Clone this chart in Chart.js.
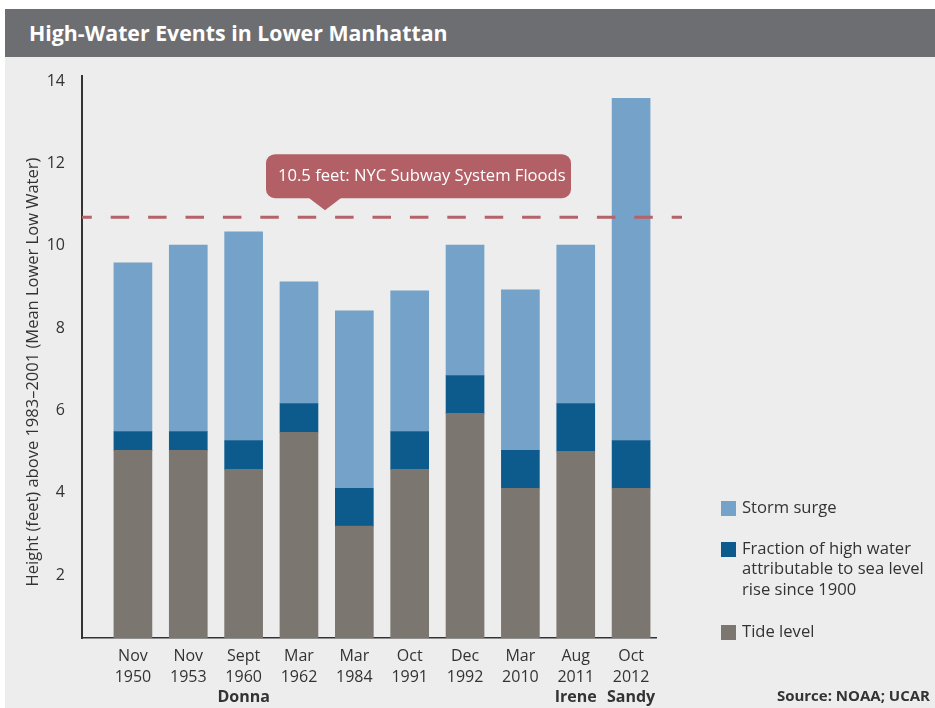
<!DOCTYPE html>
<html>
<head>
<meta charset="utf-8">
<script src="https://cdn.jsdelivr.net/npm/chart.js@4"></script>
<style>
  body { margin: 0; background: #fff; }
  #wrap { position: absolute; left: 5px; top: 9px; width: 930px; height: 699px; background: #ededed; }
  #head { height: 48px; background: #6d6e71; color: #fff; font: bold 21.3px "Open Sans", sans-serif; line-height: 47px; padding-left: 24px; }
  #box { position: absolute; left: 0; top: 48px; width: 930px; height: 651px; }
</style>
</head>
<body>
<div id="wrap">
  <div id="head">High-Water Events in Lower Manhattan</div>
  <div id="box"><canvas id="mychart"></canvas></div>
</div>
<script>
const months=['Nov','Nov','Sept','Mar','Mar','Oct','Dec','Mar','Aug','Oct'];
const years=['1950','1953','1960','1962','1984','1991','1992','2010','2011','2012'];
const storms=['','','Donna','','','','','','Irene','Sandy'];

const tideLevel=[5.03,5.03,4.57,5.47,3.19,4.57,5.93,4.11,5.01,4.11];
const seaLevelRise=[0.46,0.46,0.70,0.70,0.92,0.92,0.92,0.92,1.16,1.16];
const stormSurge=[4.10,4.53,5.07,2.96,4.31,3.42,3.17,3.90,3.85,8.32];

const subwayLevel=10.7;
const subwayText='10.5 feet: NYC Subway System Floods';
const yTicks=[2,4,6,8,10,12,14];

const FONT='"Open Sans", sans-serif';
const TEXT='#333333';

const toPoints=arr=>arr.map((v,i)=>({x:i,y:v}));

const extras={
    id:'extras',
    afterDraw(chart){
        const c=chart.ctx;
        const area=chart.chartArea;
        const ys=chart.scales.y;
        const xs=chart.scales.x;

        // subway flood line
        const ly=ys.getPixelForValue(subwayLevel);
        c.save();
        c.strokeStyle='#b5626a';
        c.lineWidth=3;
        c.setLineDash([18.5,18.9]);
        c.lineDashOffset=8.7;
        c.beginPath();
        c.moveTo(area.left,ly);
        c.lineTo(area.right+26,ly);
        c.stroke();
        c.restore();

        // callout
        const bx=area.left+184, bw=305, bh=44, by=ly-19-bh;
        const px=area.left+243;
        c.save();
        c.fillStyle='#b25f66';
        c.beginPath();
        c.roundRect(bx,by,bw,bh,9);
        c.fill();
        c.beginPath();
        c.moveTo(px-17,by+bh-1);
        c.lineTo(px+17,by+bh-1);
        c.lineTo(px,ly-7);
        c.closePath();
        c.fill();
        c.fillStyle='#ffffff';
        c.font='16.6px '+FONT;
        c.textBaseline='middle';
        c.fillText(subwayText,bx+12,by+bh/2);
        c.restore();

        // storm names under the dates
        c.save();
        c.fillStyle=TEXT;
        c.font='bold 16px '+FONT;
        c.textAlign='center';
        c.textBaseline='middle';
        storms.forEach((s,i)=>{
            if(s) c.fillText(s,xs.getPixelForValue(i),640);
        });
        c.restore();

        // y axis title
        c.save();
        c.fillStyle=TEXT;
        c.font='16.5px '+FONT;
        c.textAlign='center';
        c.textBaseline='middle';
        c.translate(28,315);
        c.rotate(-Math.PI/2);
        c.fillText('Height (feet) above 1983\u20132001 (Mean Lower Low Water)',0,0);
        c.restore();

        // legend
        const items=[
            {ds:2,lines:['Storm surge'],y:451},
            {ds:1,lines:['Fraction of high water','attributable to sea level','rise since 1900'],y:492},
            {ds:0,lines:['Tide level'],y:575}
        ];
        c.save();
        c.font='16.6px '+FONT;
        c.textBaseline='middle';
        items.forEach(it=>{
            c.fillStyle=chart.data.datasets[it.ds].backgroundColor;
            c.fillRect(716,it.y-7,15,15);
            c.fillStyle=TEXT;
            it.lines.forEach((t,k)=>c.fillText(t,737,it.y+k*20.5));
        });
        c.restore();

        // source
        c.save();
        c.fillStyle=TEXT;
        c.font='bold 15px '+FONT;
        c.textAlign='right';
        c.textBaseline='middle';
        c.fillText('Source: NOAA; UCAR',925,640);
        c.restore();
    }
};

const ctx=document.getElementById('mychart').getContext('2d');
let mychart=new Chart(ctx,{
    type:'bar',
    data:{
        datasets:[
            {label:'Tide level',data:toPoints(tideLevel),backgroundColor:'#7b766f'},
            {label:'Fraction of high water attributable to sea level rise since 1900',data:toPoints(seaLevelRise),backgroundColor:'#0d5a8c'},
            {label:'Storm surge',data:toPoints(stormSurge),backgroundColor:'#74a2c8'}
        ]
    },
    options:{
        responsive:true,
        maintainAspectRatio:false,
        animation:false,
        barThickness:38,
        layout:{padding:{top:17,right:279,left:0,bottom:0}},
        plugins:{legend:{display:false},tooltip:{enabled:false}},
        scales:{
            x:{
                type:'linear',
                stacked:true,
                offset:false,
                min:-0.92,
                max:9.45,
                grid:{display:false},
                border:{display:true,color:TEXT,width:1.5},
                afterBuildTicks:s=>{s.ticks=years.map((_,i)=>({value:i}));},
                afterFit:s=>{s.height=70;},
                ticks:{
                    color:TEXT,
                    font:{family:FONT,size:16,lineHeight:1.3},
                    padding:0,
                    maxRotation:0,
                    autoSkip:false,
                    callback:v=>[months[v],years[v]]
                }
            },
            y:{
                stacked:true,
                min:0.47,
                max:14.14,
                grid:{display:false},
                border:{display:true,color:TEXT,width:2},
                afterBuildTicks:s=>{s.ticks=yTicks.map(v=>({value:v}));},
                afterFit:s=>{s.width=77;},
                ticks:{color:TEXT,font:{family:FONT,size:16},padding:9}
            }
        }
    },
    plugins:[extras]
});
</script>
</body>
</html>
